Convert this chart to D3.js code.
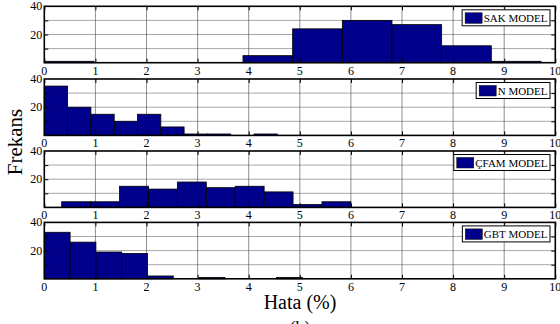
<!DOCTYPE html>
<html>
<head>
<meta charset="utf-8">
<script src="https://cdn.jsdelivr.net/npm/d3@7"></script>
<style>
  body { margin: 0; background: #fff; }
  text { font-family: "Liberation Serif", "Times New Roman", serif; }
</style>
</head>
<body>
<div class="chart"></div>
<script>
// histogram data (100 samples per model)
var models = ["SAK MODEL", "N MODEL", "ÇFAM MODEL", "GBT MODEL"];
var binStart = [0, 0, 0.34, 0];
var binWidth = [0.972, 0.456, 0.566, 0.505];
var sakCounts = [1, 0, 0, 0, 5, 24, 30, 27, 12, 1];
var nCounts = [35, 20, 15, 10, 15, 6, 1, 1, 0, 1];
var cfamCounts = [4, 4, 15, 13, 18, 14, 15, 11, 2, 4];
var gbtCounts = [33, 26, 19, 18, 2, 0, 1, 0, 0, 1];
var counts = [sakCounts, nCounts, cfamCounts, gbtCounts];
var xTicks = [0, 1, 2, 3, 4, 5, 6, 7, 8, 9, 10];
var yLabels = [20, 40];
var yGrid = [10, 20, 30];

var W = 560, H = 324;
var plotL = 44.3, plotR = 555.3;
var panelTop = [6.3, 79, 151, 222.4];
var panelH = 56.4;
var barColor = "#00008b";

var svg = d3.select(".chart")
    .append("svg")
    .attr("width", W)
    .attr("height", H);

var x = d3.scaleLinear().domain([0, 10]).range([plotL, plotR]);

for (var p = 0; p < 4; p++) {
    var t0 = panelTop[p];
    var y = d3.scaleLinear().domain([0, 40]).range([t0 + panelH, t0]);
    var g = svg.append("g");

    // grid
    g.selectAll(".hg").data(yGrid).enter().append("line")
        .attr("x1", plotL).attr("x2", plotR)
        .attr("y1", function(d) { return y(d); })
        .attr("y2", function(d) { return y(d); })
        .attr("stroke", "#a8a8a8")
        .attr("stroke-width", 1);
    g.selectAll(".vg").data(xTicks.slice(1, 10)).enter().append("line")
        .attr("x1", function(d) { return x(d); })
        .attr("x2", function(d) { return x(d); })
        .attr("y1", t0).attr("y2", t0 + panelH)
        .attr("stroke", "#444")
        .attr("stroke-width", 0.6);

    // bars
    var bins = counts[p].map(function(c, i) {
        return { x0: binStart[p] + i * binWidth[p], x1: binStart[p] + (i + 1) * binWidth[p], n: c };
    });
    g.selectAll(".bar").data(bins.filter(function(d) { return d.n > 0; })).enter().append("rect")
        .attr("x", function(d) { return x(d.x0); })
        .attr("y", function(d) { return y(d.n); })
        .attr("width", function(d) { return x(d.x1) - x(d.x0); })
        .attr("height", function(d) { return y(0) - y(d.n); })
        .attr("fill", barColor)
        .attr("stroke", "#000")
        .attr("stroke-width", 0.8);

    // ticks (inward)
    g.append("g")
        .attr("transform", "translate(0," + (t0 + panelH) + ")")
        .call(d3.axisTop(x).tickValues(xTicks).tickSize(4).tickFormat(""))
        .call(function(a) { a.select(".domain").remove(); });
    g.append("g")
        .attr("transform", "translate(0," + t0 + ")")
        .call(d3.axisBottom(x).tickValues(xTicks).tickSize(4).tickFormat(""))
        .call(function(a) { a.select(".domain").remove(); });
    g.append("g")
        .attr("transform", "translate(" + plotL + ",0)")
        .call(d3.axisRight(y).tickValues(yGrid).tickSize(4).tickFormat(""))
        .call(function(a) { a.select(".domain").remove(); });
    g.append("g")
        .attr("transform", "translate(" + plotR + ",0)")
        .call(d3.axisLeft(y).tickValues(yGrid).tickSize(4).tickFormat(""))
        .call(function(a) { a.select(".domain").remove(); });

    // frame
    g.append("rect")
        .attr("x", plotL).attr("y", t0)
        .attr("width", plotR - plotL).attr("height", panelH)
        .attr("fill", "none")
        .attr("stroke", "#000")
        .attr("stroke-width", 1.6);

    // tick labels
    g.selectAll(".xl").data(xTicks).enter().append("text")
        .attr("x", function(d) { return x(d); })
        .attr("y", t0 + panelH + 12)
        .attr("text-anchor", "middle")
        .style("font-size", "12px")
        .text(function(d) { return d; });
    g.selectAll(".yl").data(yLabels).enter().append("text")
        .attr("x", plotL - 2)
        .attr("y", function(d) { return y(d) + 4; })
        .attr("text-anchor", "end")
        .style("font-size", "12px")
        .text(function(d) { return d; });

    // legend
    var lg = g.append("g");
    var box = lg.append("rect")
        .attr("fill", "#fff")
        .attr("stroke", "#000")
        .attr("stroke-width", 1);
    var txt = lg.append("text")
        .attr("y", t0 + 3.5 + 12)
        .style("font-size", "11px")
        .attr("fill", "#000")
        .text(models[p]);
    var tw = txt.node().getComputedTextLength();
    var bx = 550 - (tw + 24);
    box.attr("x", bx).attr("y", t0 + 3.5).attr("width", tw + 24).attr("height", 16);
    lg.append("rect")
        .attr("x", bx + 3).attr("y", t0 + 6.5)
        .attr("width", 17).attr("height", 10.5)
        .attr("fill", barColor)
        .attr("stroke", "#000")
        .attr("stroke-width", 0.5);
    txt.attr("x", bx + 21.5);
}

svg.append("text")
    .attr("transform", "translate(22,142) rotate(-90)")
    .attr("text-anchor", "middle")
    .style("font-size", "21px")
    .text("Frekans");

svg.append("text")
    .attr("x", 300)
    .attr("y", 309)
    .attr("text-anchor", "middle")
    .style("font-size", "20px")
    .text("Hata (%)");

svg.append("text")
    .attr("x", 300)
    .attr("y", 334)
    .attr("text-anchor", "middle")
    .style("font-size", "18px")
    .text("(b)");
</script>
</body>
</html>
